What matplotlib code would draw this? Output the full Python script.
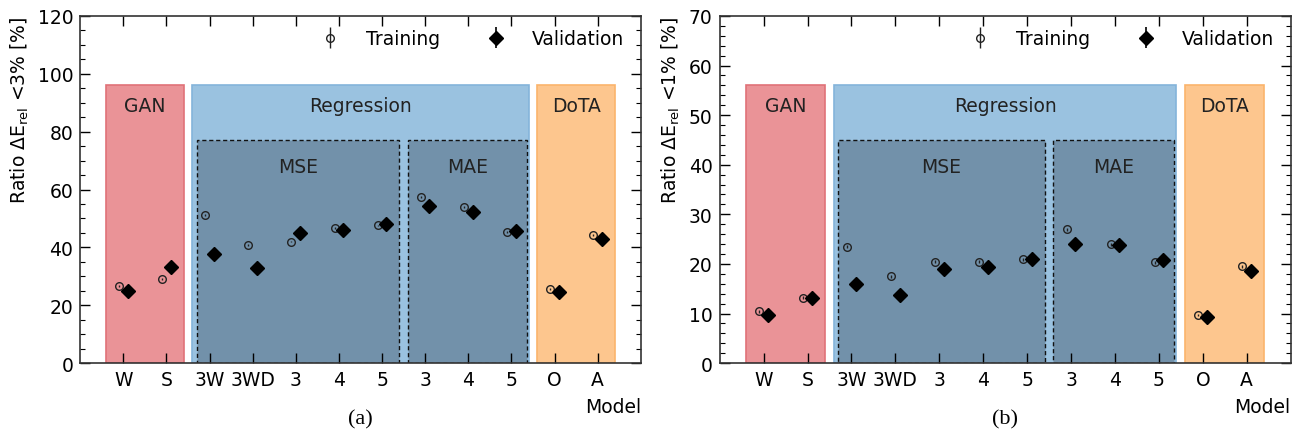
import matplotlib
matplotlib.use("Agg")
import matplotlib.pyplot as plt
from matplotlib.patches import Rectangle
from matplotlib.legend_handler import HandlerErrorbar
from matplotlib.container import ErrorbarContainer
import numpy as np

models = ["W", "S", "3W", "3WD", "3", "4", "5", "3", "4", "5", "O", "A"]

# Panel (a): ratio with dE_rel < 3 %
train_a = [26.7, 29.0, 51.2, 40.9, 42.0, 46.8, 47.6, 57.3, 53.9, 45.4, 25.6, 44.2]
val_a = [25.0, 33.3, 37.8, 32.8, 44.8, 45.9, 48.0, 54.2, 52.3, 45.6, 24.7, 43.0]
# Panel (b): ratio with dE_rel < 1 %
train_b = [10.5, 13.2, 23.5, 17.5, 20.4, 20.4, 20.9, 27.0, 24.0, 20.3, 9.7, 19.5]
val_b = [9.7, 13.2, 15.9, 13.8, 18.9, 19.4, 21.0, 24.1, 23.8, 20.7, 9.2, 18.6]
err = [0.3] * 12

groups = ["GAN", "Regression", "DoTA"]
group_span = [(-0.4, 1.4), (1.6, 9.4), (9.6, 11.4)]
sub_groups = ["MSE", "MAE"]
sub_span = [(1.7, 6.4), (6.6, 9.35)]

face_cols = ["#ea9397", "#9ac2e0", "#fdc68e"]
edge_cols = ["#e07278", "#84b4da", "#fbb46c"]
sub_face = "#7291aa"

plt.rcParams['font.family'] = ['DejaVu Sans']
FS = 13.5

fig = plt.figure(figsize=(12.92, 4.35), dpi=100)
ax_a = fig.add_axes([0.062, 0.163, 0.434, 0.798])
ax_b = fig.add_axes([0.557, 0.163, 0.442, 0.798])

def draw(ax, train, val, ymax, ylabel, minor_step, major_step, letter, letter_x):
    x = np.arange(len(models))
    top = 0.8 * ymax
    subtop = 0.642 * ymax
    for name, (x0, x1), fc, ec in zip(groups, group_span, face_cols, edge_cols):
        ax.add_patch(Rectangle((x0, 0), x1 - x0, top, facecolor=fc, edgecolor=ec,
                               lw=1.2, zorder=0))
        ax.text((x0 + x1) / 2, 0.741 * ymax, name, ha="center", va="center",
                fontsize=FS, color="#222222", zorder=1)
    for name, (x0, x1) in zip(sub_groups, sub_span):
        ax.add_patch(Rectangle((x0, 0), x1 - x0, subtop, facecolor=sub_face,
                               edgecolor="#111111", lw=1.0, ls=(0, (3, 2)), zorder=0.5))
        ax.text((x0 + x1) / 2, 0.567 * ymax, name, ha="center", va="center",
                fontsize=FS, color="#222222", zorder=1)
    ax.errorbar(x - 0.1, train, yerr=err, fmt="o", mfc="none", mec="#222222",
                ms=5.5, mew=1.0, ecolor="#222222", elinewidth=1.0, capsize=0,
                label="Training", zorder=3)
    ax.errorbar(x + 0.1, val, yerr=err, fmt="D", color="k", ms=7,
                ecolor="k", elinewidth=1.2, capsize=0, label="Validation", zorder=3)
    ax.set_xlim(-1, 12)
    ax.set_ylim(0, ymax)
    ax.set_xticks(x)
    ax.set_xticklabels(models)
    ax.set_yticks(np.arange(0, ymax + 1, major_step))
    ax.set_yticks(np.arange(0, ymax + 0.01, minor_step), minor=True)
    ax.tick_params(axis="both", which="major", direction="in", top=True, right=True,
                   length=7, width=1.0, labelsize=FS, pad=5)
    ax.tick_params(axis="y", which="minor", direction="in", right=True, length=3.5, width=0.8)
    for s in ax.spines.values():
        s.set_linewidth(1.2)
        s.set_color("#333333")
    ax.set_ylabel(ylabel, fontsize=FS, labelpad=5, loc="top")
    ax.set_xlabel("Model", loc="right", fontsize=FS, labelpad=6)
    ax.legend(loc="upper right", ncol=2, frameon=False, fontsize=FS,
              columnspacing=2.0, handletextpad=0.9, bbox_to_anchor=(1.0, 1.01),
              handler_map={ErrorbarContainer: HandlerErrorbar(xerr_size=0.6, yerr_size=0.55)})
    fig.text(letter_x, 0.035, letter, ha="center", va="center", fontsize=16,
             family="Liberation Serif")

draw(ax_a, train_a, val_a, 120, r"Ratio $\Delta$E$_{\rm rel}$ <3% [%]", 5, 20, "(a)", 0.279)
draw(ax_b, train_b, val_b, 70, r"Ratio $\Delta$E$_{\rm rel}$ <1% [%]", 2, 10, "(b)", 0.778)

fig.savefig("out.png", dpi=100)
